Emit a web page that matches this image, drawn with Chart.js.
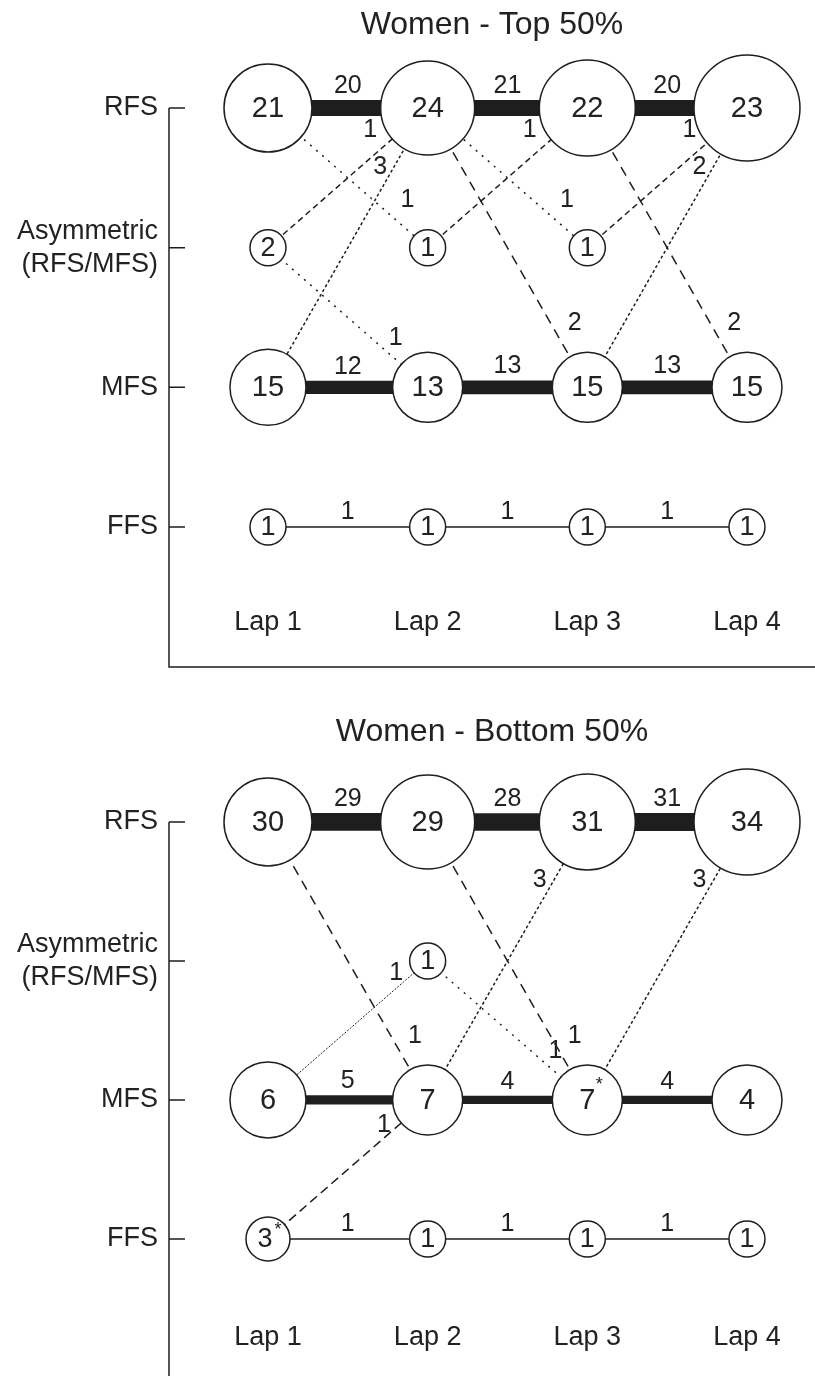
<!DOCTYPE html>
<html>
<head>
  <title>Foot strike pattern transitions - Women</title>
  <script src="https://cdn.jsdelivr.net/npm/chart.js"></script>
  <style>
    html, body { margin: 0; padding: 0; background: #fff; overflow: hidden; }
    canvas { display: block; }
  </style>
</head>
<body>
  <canvas id="topChart" width="815" height="700"></canvas>
  <canvas id="bottomChart" width="815" height="700"></canvas>

<script>
// rows on the y axis (value = index)
const FFS = 0, MFS = 1, ASYM = 2, RFS = 3;
const rows = ['FFS', 'MFS', ['Asymmetric', '(RFS/MFS)'], 'RFS'];
const laps = ['Lap 1', 'Lap 2', 'Lap 3', 'Lap 4'];

// Women - Top 50%
const topTitle = 'Women - Top 50%';
const topRFS = [21, 24, 22, 23];
const topAsym = [2, 1, 1, null];
const topMFS = [15, 13, 15, 15];
const topFFS = [1, 1, 1, 1];
const topStayRFS = [20, 21, 20];
const topStayMFS = [12, 13, 13];
const topStayFFS = [1, 1, 1];
// [from lap, from row, to lap, to row, runners]
const topMoves = [
  [1, RFS, 2, ASYM, 1],
  [1, ASYM, 2, RFS, 1],
  [1, MFS, 2, RFS, 3],
  [1, ASYM, 2, MFS, 1],
  [2, RFS, 3, ASYM, 1],
  [2, ASYM, 3, RFS, 1],
  [2, RFS, 3, MFS, 2],
  [3, RFS, 4, MFS, 2],
  [3, ASYM, 4, RFS, 1],
  [3, MFS, 4, RFS, 2]
];
const topStars = [];

// Women - Bottom 50%
const botTitle = 'Women - Bottom 50%';
const botRFS = [30, 29, 31, 34];
const botAsym = [null, 1, null, null];
const botMFS = [6, 7, 7, 4];
const botFFS = [3, 1, 1, 1];
const botStayRFS = [29, 28, 31];
const botStayMFS = [5, 4, 4];
const botStayFFS = [1, 1, 1];
const botMoves = [
  [1, RFS, 2, MFS, 1],
  [2, RFS, 3, MFS, 1],
  [2, MFS, 3, RFS, 3],
  [3, MFS, 4, RFS, 3],
  [1, MFS, 2, ASYM, 1],
  [2, ASYM, 3, MFS, 1],
  [1, FFS, 2, MFS, 1]
];
// [lap, row] of values marked with *
const botStars = [[3, MFS], [1, FFS]];

// ---- styles ----
const ink = '#1e1e1e';
const textInk = '#222';
const family = "'Liberation Sans', Arial, sans-serif";
Chart.defaults.font.family = family;
Chart.defaults.color = textInk;

const nodeRadius = {
  3: [44, 47, 48, 53],
  2: [18, 18, 18, 18],
  1: [38, 35, 35, 35],
  0: [18, 18, 18, 18]
};
// line look + where the count sits, keyed "fromRow>toRow"
const moveStyle = {
  '3>2': { dash: [2, 6], t: 0.66, dx: 34 },
  '2>3': { dash: [6, 4], t: 0.84, dx: -32 },
  '1>3': { dash: [3, 2.5], t: 0.79, dx: -14 },
  '2>1': { dash: [2, 6], t: 0.65, dx: 24 },
  '3>1': { dash: [10, 7], t: 0.77, dx: 24 },
  '1>2': { dash: [2, 1.5], t: 0.91, dx: -17, width: 1 },
  '0>1': { dash: [9, 5], t: 0.82, dx: -15 }
};

function stayWidth(n) {
  return 1.5 + 4.8 * Math.log(n);
}

function isStarred(p, panel) {
  return panel.stars.some(s => s[0] === p.x && s[1] === p.y);
}

function nodeSize(p, panel) {
  let r = nodeRadius[p.y][p.x - 1];
  if (r < 25 && isStarred(p, panel)) r += 4;
  return r;
}

function buildChart(canvasId, panel) {
  const datasets = [];

  const nodePoints = [];
  [RFS, ASYM, MFS, FFS].forEach(row => {
    panel.nodes[row].forEach((v, i) => {
      if (v != null) nodePoints.push({ x: i + 1, y: row, v: v });
    });
  });
  datasets.push({
    data: nodePoints,
    order: 0,
    pointRadius: ctx => nodeSize(ctx.raw, panel),
    pointBackgroundColor: '#fff',
    pointBorderColor: ink,
    pointBorderWidth: 1.5,
    clip: false
  });

  // runners keeping the same strike pattern
  Object.keys(panel.stays).forEach(key => {
    const row = Number(key);
    panel.stays[key].forEach((n, i) => {
      datasets.push({
        data: [{ x: i + 1, y: row }, { x: i + 2, y: row }],
        showLine: true,
        borderColor: ink,
        borderWidth: stayWidth(n),
        pointRadius: 0,
        order: 1,
        clip: false
      });
    });
  });

  // runners changing pattern
  panel.moves.forEach(m => {
    const st = moveStyle[m[1] + '>' + m[3]];
    datasets.push({
      data: [{ x: m[0], y: m[1] }, { x: m[2], y: m[3] }],
      showLine: true,
      borderColor: ink,
      borderWidth: st.width || 1.5,
      borderDash: st.dash,
      pointRadius: 0,
      order: 2,
      clip: false
    });
  });

  const labelPlugin = {
    id: 'flowLabels',
    afterDatasetsDraw(chart) {
      const ctx = chart.ctx;
      const xs = chart.scales.x, ys = chart.scales.y;
      ctx.save();
      ctx.fillStyle = textInk;
      ctx.textAlign = 'center';
      ctx.textBaseline = 'middle';

      const meta = chart.getDatasetMeta(0);
      meta.data.forEach((pt, i) => {
        const raw = chart.data.datasets[0].data[i];
        const big = nodeSize(raw, panel) > 25;
        const star = isStarred(raw, panel);
        ctx.font = (big ? 29 : 27) + 'px ' + family;
        ctx.fillText(String(raw.v), star && !big ? pt.x - 3 : pt.x, pt.y + 1);
        if (star) {
          ctx.font = '18px ' + family;
          if (big) ctx.fillText('*', pt.x + 12, pt.y - 15);
          else ctx.fillText('*', pt.x + 10, pt.y - 9);
        }
      });

      ctx.font = '25px ' + family;
      Object.keys(panel.stays).forEach(key => {
        const row = Number(key);
        panel.stays[key].forEach((n, i) => {
          const x = (xs.getPixelForValue(i + 1) + xs.getPixelForValue(i + 2)) / 2;
          const y = ys.getPixelForValue(row) - stayWidth(n) / 2 - 14;
          ctx.fillText(String(n), x, y);
        });
      });

      panel.moves.forEach(m => {
        const st = moveStyle[m[1] + '>' + m[3]];
        const x0 = xs.getPixelForValue(m[0]), y0 = ys.getPixelForValue(m[1]);
        const x1 = xs.getPixelForValue(m[2]), y1 = ys.getPixelForValue(m[3]);
        ctx.fillText(String(m[4]), x0 + (x1 - x0) * st.t + st.dx, y0 + (y1 - y0) * st.t);
      });
      ctx.restore();
    }
  };

  const axisPlugin = {
    id: 'lapAxis',
    afterDraw(chart) {
      const { ctx, chartArea } = chart;
      const ys = chart.scales.y;
      const left = chartArea.left;
      ctx.save();
      ctx.strokeStyle = ink;
      ctx.lineWidth = 1.5;
      ctx.beginPath();
      ctx.moveTo(left, ys.getPixelForValue(RFS));
      ctx.lineTo(left, chartArea.bottom);
      ctx.lineTo(chart.width, chartArea.bottom);
      [FFS, MFS, ASYM, RFS].forEach(row => {
        const y = ys.getPixelForValue(row);
        ctx.moveTo(left, y);
        ctx.lineTo(left + 16, y);
      });
      ctx.stroke();
      ctx.restore();
    }
  };

  return new Chart(document.getElementById(canvasId), {
    type: 'scatter',
    data: { datasets: datasets },
    options: {
      responsive: false,
      animation: false,
      events: [],
      layout: { autoPadding: false, padding: 0 },
      plugins: {
        legend: { display: false },
        tooltip: { enabled: false },
        title: {
          display: true,
          text: panel.title,
          fullSize: false,
          color: textInk,
          font: { size: 32, weight: 'normal' },
          padding: { top: panel.layout.titleTop, bottom: 2 }
        }
      },
      scales: {
        x: {
          type: 'linear',
          position: 'bottom',
          min: 0.38,
          max: 4.426,
          grid: { display: false, drawTicks: false },
          border: { display: false },
          afterBuildTicks: s => { s.ticks = laps.map((l, i) => ({ value: i + 1 })); },
          afterFit: s => {
            s.height = panel.layout.xAxisHeight;
            s.paddingLeft = 0; s.paddingRight = 0;
          },
          ticks: {
            mirror: true,
            padding: 28,
            autoSkip: false,
            maxRotation: 0,
            color: textInk,
            font: { size: 27 },
            callback: v => laps[v - 1]
          }
        },
        y: {
          type: 'linear',
          min: panel.layout.yMin,
          max: panel.layout.yMax,
          grid: { display: false, drawTicks: false },
          border: { display: false },
          afterBuildTicks: s => { s.ticks = rows.map((r, i) => ({ value: i })); },
          afterFit: s => {
            s.width = 169;
            s.paddingTop = 0; s.paddingBottom = 0;
          },
          ticks: {
            padding: 11,
            autoSkip: false,
            color: textInk,
            font: { size: 27, lineHeight: 1.22 },
            callback: v => rows[v]
          }
        }
      }
    },
    plugins: [labelPlugin, axisPlugin]
  });
}

buildChart('topChart', {
  title: topTitle,
  nodes: { 3: topRFS, 2: topAsym, 1: topMFS, 0: topFFS },
  stays: { 3: topStayRFS, 1: topStayMFS, 0: topStayFFS },
  moves: topMoves,
  stars: topStars,
  layout: { titleTop: 6, yMin: -1.002, yMax: 3.441, xAxisHeight: 33 }
});

buildChart('bottomChart', {
  title: botTitle,
  nodes: { 3: botRFS, 2: botAsym, 1: botMFS, 0: botFFS },
  stays: { 3: botStayRFS, 1: botStayMFS, 0: botStayFFS },
  moves: botMoves,
  stars: botStars,
  layout: { titleTop: 13, yMin: -1.029, yMax: 3.493, xAxisHeight: 18 }
});
</script>
</body>
</html>
